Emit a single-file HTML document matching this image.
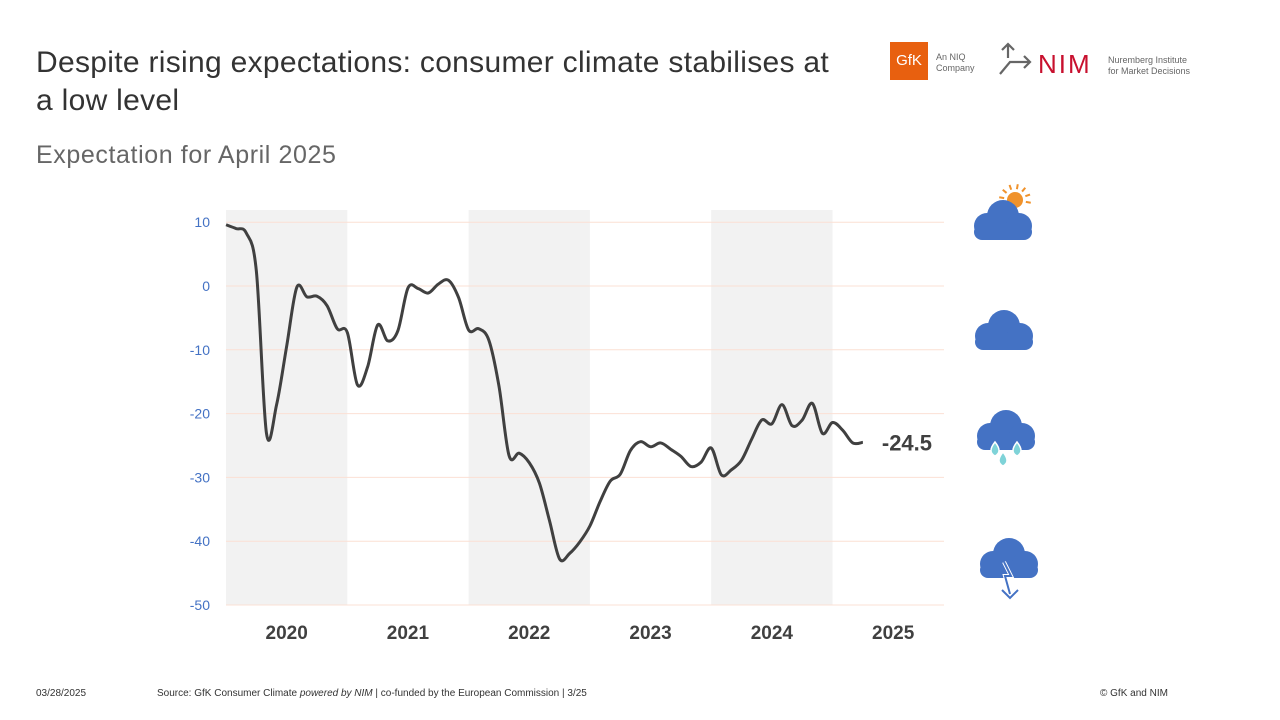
<!DOCTYPE html>
<html><head><meta charset="utf-8"><style>
body{margin:0;width:1280px;height:720px;background:#fff;font-family:"Liberation Sans",sans-serif;position:relative;overflow:hidden}
.a{position:absolute}
</style></head><body>
<div class="a" style="left:36px;top:44px;font-size:30px;color:#333;line-height:38px;width:900px;letter-spacing:0.3px;white-space:nowrap">Despite rising expectations: consumer climate stabilises at<br>a low level</div>
<div class="a" style="left:36px;top:141px;font-size:25px;color:#666;letter-spacing:0.6px">Expectation for April 2025</div>
<div class="a" style="left:890px;top:42px;width:38px;height:38px;background:#e8600f;color:#fff;font-size:15px;line-height:38px;text-align:center">GfK</div>
<div class="a" style="left:936px;top:52px;font-size:9px;color:#666;line-height:11px">An NIQ<br>Company</div>
<svg class="a" style="left:998px;top:42px" width="36" height="34"><path d="M10 2v14M4 8l6-6 6 6M2 32l10-12h20M26 14l6 6-6 6" stroke="#666" stroke-width="2.2" fill="none"/></svg>
<div class="a" style="left:1038px;top:50px;font-size:26px;color:#c8102e;letter-spacing:2px;line-height:28px">NIM</div>
<div class="a" style="left:1108px;top:55px;font-size:9px;color:#666;line-height:11px">Nuremberg Institute<br>for Market Decisions</div>
<svg class="a" id="chart" style="left:0;top:0" width="1280" height="720"></svg>
<div class="a" style="left:36px;top:688px;font-size:10px;color:#333">03/28/2025</div>
<div class="a" style="left:157px;top:688px;font-size:10px;color:#333">Source: GfK Consumer Climate <i>powered by NIM</i> | co-funded by the European Commission | 3/25</div>
<div class="a" style="left:1100px;top:688px;font-size:10px;color:#333">© GfK and NIM</div>
<script>
const years=["2020","2021","2022","2023","2024","2025"];
const yTicks=[10,0,-10,-20,-30,-40,-50];
const values=[9.6,9.0,8.3,2.3,-23.1,-18.6,-9.4,-0.2,-1.7,-1.6,-3.1,-6.7,
-7.3,-15.5,-12.7,-6.1,-8.6,-7.0,-0.3,-0.4,-1.1,0.3,0.9,-1.8,
-6.9,-6.7,-8.5,-15.7,-26.6,-26.2,-27.7,-30.9,-36.8,-42.8,-41.9,-40.1,
-37.6,-33.8,-30.6,-29.5,-25.8,-24.4,-25.2,-24.6,-25.6,-26.7,-28.3,-27.6,
-25.4,-29.6,-28.8,-27.3,-24.0,-21.0,-21.6,-18.6,-21.9,-21.0,-18.4,-23.1,
-21.4,-22.6,-24.6,-24.5];
const lastLabel="-24.5";
const NS="http://www.w3.org/2000/svg",svg=document.getElementById('chart');
const x0=226,yw=121.3,xEnd=944;
const xm=i=>x0+(i+0.5)*yw/12-5;
const y=v=>286-v*6.38;
function mk(t,a,p){const e=document.createElementNS(NS,t);for(const k in a)e.setAttribute(k,a[k]);(p||svg).appendChild(e);return e;}
years.forEach((yr,i)=>{const xs=x0+i*yw;
if(i%2==0){const r=mk('rect',{x:xs,y:210,width:Math.min(yw,xEnd-xs),height:395,fill:'#f2f2f2'});}
const t=mk('text',{x:xs+yw/2,y:639,'text-anchor':'middle','font-size':19,'font-weight':'bold',fill:'#404040'});t.textContent=yr;
});
yTicks.forEach(v=>{const g=mk('line',{x1:226,x2:xEnd,y1:y(v),y2:y(v),stroke:'#fbe0d4','stroke-width':1});

const t=mk('text',{x:210,y:y(v)+5,'text-anchor':'end','font-size':14,fill:'#4472c4'});t.textContent=v;
});
const pts=values.map((v,i)=>[xm(i),y(v)]);
let d='M'+pts[0][0]+','+pts[0][1];
for(let i=0;i<pts.length-1;i++){const p0=pts[Math.max(0,i-1)],p1=pts[i],p2=pts[i+1],p3=pts[Math.min(pts.length-1,i+2)];
d+=` C${p1[0]+(p2[0]-p0[0])/6},${p1[1]+(p2[1]-p0[1])/6} ${p2[0]-(p3[0]-p1[0])/6},${p2[1]-(p3[1]-p1[1])/6} ${p2[0]},${p2[1]}`;}
const l=mk('path',{d:d,fill:'none',stroke:'#404040','stroke-width':3,'stroke-linejoin':'round'});

const lp=pts[pts.length-1];
const lt=mk('text',{x:lp[0]+19,y:lp[1]+8,'font-size':22,'font-weight':'bold',fill:'#404040'});lt.textContent=lastLabel;

function cloud(cx,cy,name){const g=mk('g',{transform:`translate(${cx},${cy})`});

mk('circle',{cx:-15,cy:4,r:13,fill:'#4472c4'},g);mk('circle',{cx:1,cy:-6,r:16,fill:'#4472c4'},g);mk('circle',{cx:17,cy:4,r:13,fill:'#4472c4'},g);
mk('rect',{x:-28,y:2,width:58,height:16,rx:8,fill:'#4472c4'},g);return g;}
const s=mk('g',{});
mk('circle',{cx:1015,cy:200,r:8,fill:'#f0922b'},s);
for(let k=0;k<7;k++){const a=(-170+k*30)*Math.PI/180;mk('line',{x1:1015+11*Math.cos(a),y1:200+11*Math.sin(a),x2:1015+16*Math.cos(a),y2:200+16*Math.sin(a),stroke:'#f0922b','stroke-width':2},s);}
cloud(1002,222,'icon-partly-sunny');
cloud(1003,332,'icon-cloudy');
const r=cloud(1005,432,'icon-rain');
[[-10,18],[12,18],[-2,28]].forEach(p=>mk('path',{d:`M${p[0]},${p[1]-8} q8,10 0,14 q-8,-4 0,-14z`,fill:'#7fd3d8',stroke:'#fff','stroke-width':1.5},r));
const st=cloud(1008,560,'icon-storm');
mk('path',{d:'M-4,2 l7,14 h-6 l5,18',stroke:'#fff','stroke-width':4,fill:'none'},st);
mk('path',{d:'M-4,2 l7,14 h-6 l5,18 M-6,30 l8,8 8,-8',stroke:'#4472c4','stroke-width':2,fill:'none'},st);
</script>
</body></html>
